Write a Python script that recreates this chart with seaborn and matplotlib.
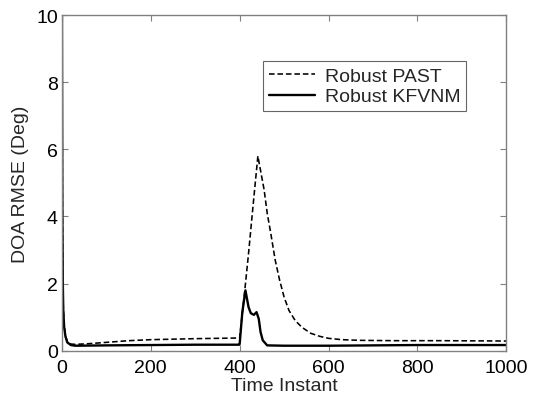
import matplotlib
matplotlib.use("Agg")
import matplotlib.pyplot as plt
import pandas as pd
import seaborn as sns

# ------------------------------------------------------------------
# Data
# ------------------------------------------------------------------
past_t = [0, 1, 2, 3, 5, 8, 12, 20, 30, 60, 100, 150, 200, 300, 399,
          400, 410, 420, 430, 441, 448, 455, 462, 470, 480, 490, 500,
          511, 525, 540, 560, 580, 600, 630, 670, 750, 850, 1000]
past_v = [10, 4.5, 2.2, 1.3, 0.75, 0.45, 0.28, 0.2, 0.19, 0.21, 0.25,
          0.3, 0.33, 0.36, 0.38,
          0.38, 1.6, 2.9, 4.3, 5.8, 5.3, 4.8, 4.1, 3.5, 2.7, 2.1, 1.6,
          1.2, 0.9, 0.7, 0.52, 0.43, 0.37, 0.33, 0.31, 0.3, 0.3, 0.29]

kf_t = [0, 1, 2, 3, 5, 8, 12, 20, 30, 100, 200, 300, 399,
        400, 406, 413, 420, 425, 432, 438, 443, 447, 452, 462,
        500, 600, 700, 800, 900, 1000]
kf_v = [10, 4.0, 2.0, 1.2, 0.7, 0.42, 0.25, 0.17, 0.15, 0.16, 0.17, 0.18, 0.18,
        0.2, 1.15, 1.8, 1.3, 1.12, 1.07, 1.15, 0.95, 0.56, 0.31, 0.16,
        0.15, 0.15, 0.16, 0.17, 0.17, 0.17]

legend_labels = ["Robust PAST", "Robust KFVNM"]
x_ticks = [0, 200, 400, 600, 800, 1000]
y_ticks = [0, 2, 4, 6, 8, 10]

# ------------------------------------------------------------------
# Style
# ------------------------------------------------------------------
sns.set_style("white")
plt.rcParams["font.family"] = ["Liberation Sans", "DejaVu Sans"]
frame_grey = "#808080"
fs = 14

fig = plt.figure(figsize=(5.34, 4.02), dpi=100)
ax = fig.add_axes([0.116, 0.125, 0.832, 0.835])

past = pd.DataFrame({"t": past_t, "v": past_v})
kf = pd.DataFrame({"t": kf_t, "v": kf_v})

sns.lineplot(data=past, x="t", y="v", ax=ax, color="black",
             linestyle=(0, (3.5, 1.8)), linewidth=1.15, label=legend_labels[0])
sns.lineplot(data=kf, x="t", y="v", ax=ax, color="black",
             linewidth=1.7, label=legend_labels[1])

ax.set_xlim(0, 1000)
ax.set_ylim(0, 10)
ax.set_xticks(x_ticks)
ax.set_yticks(y_ticks)
ax.set_xlabel("Time Instant", fontsize=fs, labelpad=1)
ax.set_ylabel("DOA RMSE (Deg)", fontsize=fs, labelpad=5)

for side in ax.spines.values():
    side.set_color(frame_grey)
    side.set_linewidth(1.0)
ax.tick_params(direction="in", length=4, width=0.8, color=frame_grey,
               labelsize=fs, labelcolor="black", top=True, right=True,
               bottom=True, left=True)
ax.tick_params(axis="x", pad=6)
ax.tick_params(axis="y", pad=3)

leg = ax.legend(loc="upper left", bbox_to_anchor=(0.452, 0.862),
                fontsize=fs, frameon=True, fancybox=False,
                handlelength=2.4, handletextpad=0.5, borderpad=0.3,
                labelspacing=0.15, borderaxespad=0)
leg.get_frame().set_edgecolor("#404040")
leg.get_frame().set_linewidth(0.8)

fig.savefig("out.png", dpi=100)
